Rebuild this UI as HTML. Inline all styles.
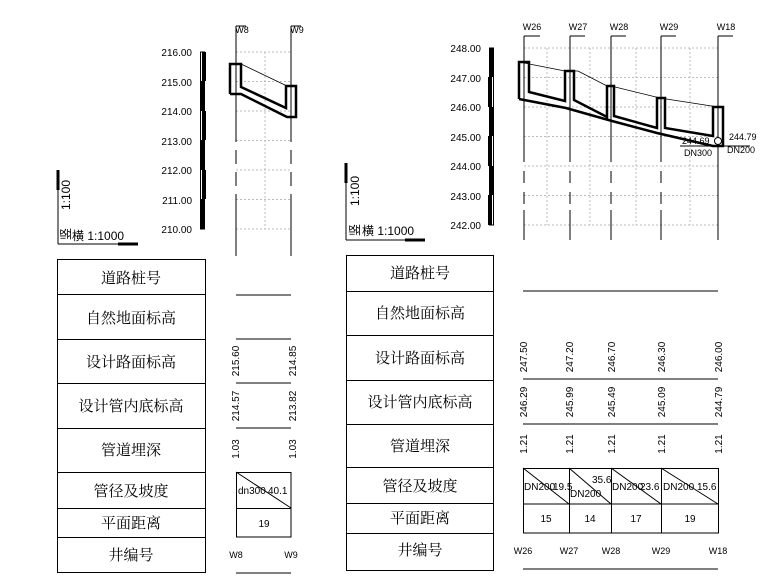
<!DOCTYPE html>
<html><head><meta charset="utf-8"><style>
html,body{margin:0;padding:0;background:#fff;}
svg{display:block;font-family:"Liberation Sans Narrow","Liberation Sans","Noto Sans CJK SC",sans-serif;}
.c{font-family:"Liberation Serif","Noto Serif CJK SC","Noto Sans CJK SC",serif;font-size:15px;}
.n{font-size:10px;}
</style></head><body>
<svg width="760" height="580" viewBox="0 0 760 580" xmlns="http://www.w3.org/2000/svg">
<g stroke="#000" fill="none">
<!-- LEFT scale corner -->
<line x1="58" y1="170" x2="58" y2="244"/><line x1="58" y1="244" x2="138" y2="244"/>
<line x1="58" y1="170" x2="58" y2="190" stroke-width="3"/><line x1="118" y1="244" x2="138" y2="244" stroke-width="3"/>
<!-- RIGHT scale corner -->
<line x1="346" y1="163" x2="346" y2="240"/><line x1="346" y1="240" x2="425" y2="240"/>
<line x1="346" y1="163" x2="346" y2="183" stroke-width="3"/><line x1="405" y1="240" x2="425" y2="240" stroke-width="3"/>

<!-- LEFT table -->
<rect x="57.5" y="259.5" width="148" height="313"/>
<line x1="57" y1="294.5" x2="206" y2="294.5"/><line x1="57" y1="339.5" x2="206" y2="339.5"/>
<line x1="57" y1="383.5" x2="206" y2="383.5"/><line x1="57" y1="428.5" x2="206" y2="428.5"/>
<line x1="57" y1="472.5" x2="206" y2="472.5"/><line x1="57" y1="508.5" x2="206" y2="508.5"/>
<line x1="57" y1="537.5" x2="206" y2="537.5"/>
<!-- RIGHT table -->
<rect x="346.5" y="255.5" width="147" height="315"/>
<line x1="346" y1="291.5" x2="494" y2="291.5"/><line x1="346" y1="335.5" x2="494" y2="335.5"/>
<line x1="346" y1="380.5" x2="494" y2="380.5"/><line x1="346" y1="424.5" x2="494" y2="424.5"/>
<line x1="346" y1="467.5" x2="494" y2="467.5"/><line x1="346" y1="503.5" x2="494" y2="503.5"/>
<line x1="346" y1="533.5" x2="494" y2="533.5"/>

<!-- LEFT data lines -->
<line x1="236" y1="295" x2="291" y2="295"/><line x1="236" y1="339" x2="291" y2="339"/>
<line x1="236" y1="383" x2="291" y2="383"/><line x1="236" y1="428" x2="291" y2="428"/>
<line x1="236" y1="573" x2="291" y2="573"/>
<rect x="236.5" y="472.5" width="54.5" height="64.5"/><line x1="236" y1="508.5" x2="291" y2="508.5"/>
<line x1="236" y1="472" x2="291" y2="508"/>
<!-- RIGHT data lines -->
<line x1="523" y1="291" x2="718" y2="291"/><line x1="523" y1="379" x2="718" y2="379"/>
<line x1="523" y1="424" x2="718" y2="424"/><line x1="523" y1="569" x2="718" y2="569"/>
<rect x="523.5" y="468.5" width="195" height="64.5"/><line x1="523" y1="504" x2="718" y2="504"/>
<line x1="569.5" y1="468" x2="569.5" y2="533"/><line x1="611.5" y1="468" x2="611.5" y2="533"/><line x1="661.5" y1="468" x2="661.5" y2="533"/>
<line x1="523" y1="468" x2="569" y2="504"/><line x1="569" y1="468" x2="611" y2="504"/>
<line x1="611" y1="468" x2="661" y2="504"/><line x1="661" y1="468" x2="718" y2="504"/>

<!-- LEFT profile grid -->
<g stroke="#bbb" stroke-dasharray="2,2">
<line x1="236" y1="52" x2="291" y2="52"/><line x1="236" y1="81.5" x2="291" y2="81.5"/><line x1="236" y1="111" x2="291" y2="111"/>
<line x1="236" y1="140.5" x2="291" y2="140.5"/><line x1="236" y1="170" x2="291" y2="170"/><line x1="236" y1="199.5" x2="291" y2="199.5"/><line x1="236" y1="229" x2="291" y2="229"/>
<line x1="265" y1="52" x2="265" y2="229"/>
</g>
<line x1="236" y1="26" x2="236" y2="128"/><line x1="291" y1="26" x2="291" y2="128"/>
<line x1="236" y1="128" x2="236" y2="205" stroke-dasharray="14,8"/><line x1="291" y1="128" x2="291" y2="205" stroke-dasharray="14,8"/>
<line x1="236" y1="205" x2="236" y2="256"/><line x1="291" y1="205" x2="291" y2="256"/>
<line x1="236" y1="26" x2="246" y2="26"/><line x1="291" y1="26" x2="301" y2="26"/>
<rect x="200.5" y="52" width="4" height="177"/>
<g stroke-width="4"><line x1="204" y1="52" x2="204" y2="81"/><line x1="204" y1="111" x2="204" y2="140"/><line x1="204" y1="170" x2="204" y2="199"/></g>
<g stroke-width="4"><line x1="202" y1="81" x2="202" y2="111"/><line x1="202" y1="140" x2="202" y2="170"/><line x1="202" y1="199" x2="202" y2="229"/></g>
<!-- left pipe -->
<line x1="241" y1="64" x2="287" y2="86" stroke-width="0.8"/>
<g stroke-width="2.5">
<polyline points="230,94 230,64 241,64 241,87 286,108 286,86 296,86 296,117 287,117 241,94 230,94"/>
</g>

<!-- RIGHT profile grid -->
<g stroke="#bbb" stroke-dasharray="2,2">
<line x1="524" y1="48" x2="718" y2="48"/><line x1="524" y1="77.5" x2="718" y2="77.5"/><line x1="524" y1="107" x2="718" y2="107"/>
<line x1="524" y1="136.5" x2="718" y2="136.5"/><line x1="524" y1="166" x2="718" y2="166"/><line x1="524" y1="195.5" x2="718" y2="195.5"/><line x1="524" y1="225" x2="718" y2="225"/>
<line x1="547" y1="48" x2="547" y2="225"/><line x1="590" y1="48" x2="590" y2="225"/><line x1="636" y1="48" x2="636" y2="225"/><line x1="690" y1="48" x2="690" y2="225"/>
</g>
<g>
<line x1="524" y1="36" x2="524" y2="150"/><line x1="570" y1="36" x2="570" y2="150"/><line x1="611" y1="36" x2="611" y2="150"/><line x1="661" y1="36" x2="661" y2="150"/><line x1="718" y1="36" x2="718" y2="240"/>
<g stroke-dasharray="12,9"><line x1="524" y1="150" x2="524" y2="210"/><line x1="570" y1="150" x2="570" y2="210"/><line x1="611" y1="150" x2="611" y2="210"/><line x1="661" y1="150" x2="661" y2="210"/></g>
<line x1="524" y1="210" x2="524" y2="240"/><line x1="570" y1="210" x2="570" y2="240"/><line x1="611" y1="210" x2="611" y2="240"/><line x1="661" y1="210" x2="661" y2="240"/>
<line x1="524" y1="36" x2="540" y2="36"/><line x1="570" y1="36" x2="585" y2="36"/><line x1="611" y1="36" x2="626" y2="36"/><line x1="661" y1="36" x2="676" y2="36"/><line x1="718" y1="36" x2="733" y2="36"/>
</g>
<rect x="489.5" y="48" width="4" height="177"/>
<g stroke-width="4"><line x1="492" y1="48" x2="492" y2="77"/><line x1="492" y1="107" x2="492" y2="136"/><line x1="492" y1="166" x2="492" y2="195"/></g>
<g stroke-width="4"><line x1="490" y1="77" x2="490" y2="107"/><line x1="490" y1="136" x2="490" y2="166"/><line x1="490" y1="195" x2="490" y2="225"/></g>
<polyline points="519,62 565,71 578,71 607,86 611,86 660,98 718,107" stroke-width="0.8"/>
<g stroke-width="2.5">
<polyline points="519,99 519,62 529,62 529,92 565,101 565,71 574,71 574,100 607,117 607,86 614,86 614,116 657,128 657,98 665,98 665,128 713,136 713,107 723,107 723,146 713,146 657,133 612,121 566,108 519,99"/>
</g>
<circle cx="718" cy="141" r="3.5" fill="#fff"/>
<line x1="680" y1="146" x2="716" y2="146"/><line x1="722" y1="146" x2="750" y2="146"/>
</g>

<g fill="#000">
<g class="n" text-anchor="end">
<text x="192" y="56">216.00</text><text x="192" y="86">215.00</text><text x="192" y="115">214.00</text><text x="192" y="145">213.00</text><text x="192" y="174">212.00</text><text x="192" y="204">211.00</text><text x="192" y="233">210.00</text>
<text x="481" y="52">248.00</text><text x="481" y="82">247.00</text><text x="481" y="111">246.00</text><text x="481" y="141">245.00</text><text x="481" y="170">244.00</text><text x="481" y="200">243.00</text><text x="481" y="229">242.00</text>
</g>
<g font-size="9" text-anchor="middle">
<text x="242" y="33">W8</text><text x="297" y="33">W9</text>
<text x="532" y="30">W26</text><text x="578" y="30">W27</text><text x="619" y="30">W28</text><text x="669" y="30">W29</text><text x="726" y="30">W18</text>
</g>
<g font-size="9">
<text x="682" y="144">244.69</text><text x="684" y="156">DN300</text>
<text x="729" y="140">244.79</text><text x="727" y="153">DN200</text>
</g>
<text transform="translate(70,210) rotate(-90)" font-size="12">1:100</text>
<text transform="translate(70,240) rotate(-90)" font-size="12" style="font-family:'Noto Sans CJK SC'">竖</text>
<text x="72" y="240" font-size="12"><tspan style="font-family:'Noto Sans CJK SC'">横</tspan> 1:1000</text>
<text transform="translate(359,206) rotate(-90)" font-size="12">1:100</text>
<text transform="translate(359,236) rotate(-90)" font-size="12" style="font-family:'Noto Sans CJK SC'">竖</text>
<text x="362" y="235" font-size="12"><tspan style="font-family:'Noto Sans CJK SC'">横</tspan> 1:1000</text>

<g class="c" text-anchor="middle">
<text x="131" y="283">道路桩号</text><text x="131" y="323">自然地面标高</text><text x="131" y="367">设计路面标高</text>
<text x="131" y="411">设计管内底标高</text><text x="131" y="455">管道埋深</text><text x="131" y="496">管径及坡度</text>
<text x="131" y="528">平面距离</text><text x="131" y="560">井编号</text>
<text x="420" y="278">道路桩号</text><text x="420" y="318">自然地面标高</text><text x="420" y="363">设计路面标高</text>
<text x="420" y="407">设计管内底标高</text><text x="420" y="451">管道埋深</text><text x="420" y="491">管径及坡度</text>
<text x="420" y="523">平面距离</text><text x="420" y="555">井编号</text>
</g>
<g class="n" text-anchor="middle">
<text transform="translate(239,361) rotate(-90)">215.60</text><text transform="translate(296,361) rotate(-90)">214.85</text>
<text transform="translate(239,406) rotate(-90)">214.57</text><text transform="translate(296,406) rotate(-90)">213.82</text>
<text transform="translate(239,449) rotate(-90)">1.03</text><text transform="translate(296,449) rotate(-90)">1.03</text>
<text transform="translate(527,357) rotate(-90)">247.50</text><text transform="translate(573,357) rotate(-90)">247.20</text><text transform="translate(615,357) rotate(-90)">246.70</text><text transform="translate(665,357) rotate(-90)">246.30</text><text transform="translate(722,357) rotate(-90)">246.00</text>
<text transform="translate(527,402) rotate(-90)">246.29</text><text transform="translate(573,402) rotate(-90)">245.99</text><text transform="translate(615,402) rotate(-90)">245.49</text><text transform="translate(665,402) rotate(-90)">245.09</text><text transform="translate(722,402) rotate(-90)">244.79</text>
<text transform="translate(527,444) rotate(-90)">1.21</text><text transform="translate(573,444) rotate(-90)">1.21</text><text transform="translate(615,444) rotate(-90)">1.21</text><text transform="translate(665,444) rotate(-90)">1.21</text><text transform="translate(722,444) rotate(-90)">1.21</text>
</g>
<g class="n">
<text x="238" y="494">dn300</text><text x="268" y="494">40.1</text>
<text x="524" y="490">DN200</text><text x="553" y="490">19.5</text>
<text x="570" y="497">DN200</text><text x="592" y="483">35.6</text>
<text x="612" y="490">DN200</text><text x="640" y="490">23.6</text>
<text x="663" y="490">DN200</text><text x="697" y="490">15.6</text>
</g>
<g class="n" text-anchor="middle">
<text x="264" y="527">19</text>
<text x="546" y="522">15</text><text x="590" y="522">14</text><text x="636" y="522">17</text><text x="690" y="522">19</text>
</g>
<g font-size="9" text-anchor="middle">
<text x="236" y="558">W8</text><text x="291" y="558">W9</text>
<text x="523" y="554">W26</text><text x="569" y="554">W27</text><text x="611" y="554">W28</text><text x="661" y="554">W29</text><text x="718" y="554">W18</text>
</g>
</g>
</svg>
</body></html>
